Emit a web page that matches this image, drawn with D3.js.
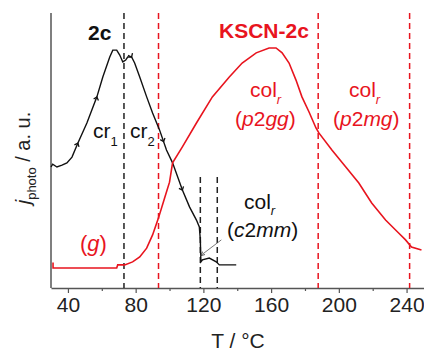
<!DOCTYPE html>
<html>
<head>
<meta charset="utf-8">
<script src="https://cdn.jsdelivr.net/npm/d3@7"></script>
<style>
  body { margin: 0; background: #fff; }
  svg { font-family: "Liberation Sans", Arial, sans-serif; }
</style>
</head>
<body>
<svg id="chart" width="424" height="351"></svg>
<script>
// black curve: 2c  (T in °C, j in a.u.)
var blackT = [30, 31, 33.5, 36.5, 39.4, 42.4, 45.9, 51.2, 57.1, 60.6, 64.7, 66.5, 68.8, 70.6, 72.4, 74.1, 75.3, 77.6, 79.4, 82.4, 86.5, 90, 94.1, 98.2, 101.8, 107.6, 111.8, 115.9, 117.6, 118.2, 118.5, 119.4, 123.5, 127.6, 129.4, 139.4];
var blackJ = [44, 45, 44, 44.7, 45.5, 47.6, 52.7, 60, 69.5, 76.7, 84, 86.5, 86.5, 84.7, 82.2, 82.9, 84, 84, 81.8, 76.7, 69.5, 63.6, 57.5, 50.2, 45.5, 35.6, 29.5, 24.7, 22.2, 17.5, 9.5, 10.2, 10.9, 9.5, 8.4, 8.4];
// heating direction marks on the black curve
var arrowT = [45.9, 57.1, 77.6, 96.5, 107.6];

// red curve: KSCN-2c
var redT = [31.2, 31.2, 68.8, 69.4, 73.5, 78.2, 82.4, 86.5, 90, 93.5, 97.1, 100, 101.8, 107.6, 115.9, 125.3, 135.3, 142.9, 151.2, 158.8, 162.9, 166.5, 170.6, 174.7, 178.2, 182.4, 186.5, 188.2, 195.9, 204.1, 211.8, 219.4, 227.6, 235.3, 239.4, 242.9, 248.8];
var redJ = [9.3, 7.3, 7.3, 8.4, 8.4, 9.5, 11.3, 14.5, 19.3, 25.5, 32.7, 38.5, 45.5, 51.3, 60, 69.5, 76.7, 81.8, 85.5, 87.3, 87.3, 85.5, 81.8, 75.6, 69.5, 64, 58.2, 56.4, 50.2, 44, 38.2, 30.9, 24.7, 20, 17.5, 14.9, 13.8];

// phase borders
var blackBorders = [73.1];
var blackShortBorders = [118.2, 128.2];
var redBorders = [93.5, 187.8, 241.8];

var majorTicks = [40, 80, 120, 160, 200, 240];
var minorTicks = [60, 100, 140, 180, 220];

var svg = d3.select("#chart");
var x = d3.scaleLinear().domain([30, 250]).range([51, 423.5]);
var y = d3.scaleLinear().domain([0, 100]).range([288, 13]);

var black = "#111111", red = "#e8141e", axisCol = "#555555";

// x axis
var xAxis = d3.axisBottom(x).tickValues(majorTicks).tickSize(5).tickSizeOuter(0).tickPadding(4);
var gx = svg.append("g").attr("transform", "translate(0,288)").call(xAxis);
gx.select(".domain").attr("stroke", axisCol).attr("stroke-width", 1.5);
gx.selectAll(".tick line").attr("stroke", axisCol).attr("stroke-width", 1.2);
gx.selectAll(".tick text").attr("font-size", 21).attr("fill", "#222").attr("font-family", "Liberation Sans, Arial, sans-serif");

var gxm = svg.append("g").attr("transform", "translate(0,288)")
  .call(d3.axisBottom(x).tickValues(minorTicks).tickSize(3).tickFormat(""));
gxm.select(".domain").remove();
gxm.selectAll(".tick line").attr("stroke", axisCol).attr("stroke-width", 1.2);

// y axis, line only
svg.append("line")
  .attr("x1", x(30)).attr("x2", x(30))
  .attr("y1", y(100)).attr("y2", y(0))
  .attr("stroke", axisCol).attr("stroke-width", 1.5);

// dashed borders
function border(t, top, color) {
  svg.append("line")
    .attr("x1", x(t)).attr("x2", x(t))
    .attr("y1", y(top)).attr("y2", y(0))
    .attr("stroke", color).attr("stroke-width", 1.5)
    .style("stroke-dasharray", "6, 4");
}
blackBorders.forEach(function (t) { border(t, 100, "#222"); });
blackShortBorders.forEach(function (t) { border(t, 40.4, "#222"); });
redBorders.forEach(function (t) { border(t, 100, red); });

// curves
var line = d3.line().x(function (d) { return x(d[0]); }).y(function (d) { return y(d[1]); });
svg.append("path")
  .datum(blackT.map(function (t, i) { return [t, blackJ[i]]; }))
  .attr("fill", "none").attr("stroke", black).attr("stroke-width", 1.4)
  .attr("d", line);
svg.append("path")
  .datum(redT.map(function (t, i) { return [t, redJ[i]]; }))
  .attr("fill", "none").attr("stroke", red).attr("stroke-width", 1.6)
  .attr("d", line);

// little arrow heads along the black curve
arrowT.forEach(function (t) {
  var i = d3.bisectRight(blackT, t) - 1;
  var f = (t - blackT[i]) / (blackT[i + 1] - blackT[i]);
  var j = blackJ[i] + f * (blackJ[i + 1] - blackJ[i]);
  var ang = Math.atan2(y(blackJ[i + 1]) - y(blackJ[i]), x(blackT[i + 1]) - x(blackT[i])) * 180 / Math.PI;
  svg.append("path")
    .attr("d", "M-3,-2.5L0,0L-3,2.5")
    .attr("fill", "none").attr("stroke", black).attr("stroke-width", 1.3)
    .attr("transform", "translate(" + x(t) + "," + y(j) + ") rotate(" + ang + ")");
});

// labels
function label(px, py, parts, color, size, weight) {
  var t = svg.append("text").attr("x", px).attr("y", py)
    .attr("fill", color).attr("font-size", size || 21)
    .attr("font-weight", weight || "normal");
  parts.forEach(function (p) {
    var s = t.append("tspan").text(p.text);
    if (p.italic) s.attr("font-style", "italic");
    if (p.sub) s.attr("font-size", 13).attr("dy", p.sub);
  });
  return t;
}
label(88, 40, [{ text: "2c" }], black, 21, "bold");
label(219, 38, [{ text: "KSCN-2c" }], red, 21, "bold");
label(93, 138, [{ text: "cr" }, { text: "1", sub: 8 }], black);
label(130, 138, [{ text: "cr" }, { text: "2", sub: 8 }], black);
label(250, 97, [{ text: "col" }, { text: "r", sub: 7, italic: true }], red);
label(235, 126, [{ text: "(" }, { text: "p", italic: true }, { text: "2" }, { text: "gg", italic: true }, { text: ")" }], red);
label(349, 97, [{ text: "col" }, { text: "r", sub: 7, italic: true }], red);
label(333, 126, [{ text: "(" }, { text: "p", italic: true }, { text: "2" }, { text: "mg", italic: true }, { text: ")" }], red);
label(244, 209, [{ text: "col" }, { text: "r", sub: 6, italic: true }], black);
label(227, 237, [{ text: "(" }, { text: "c", italic: true }, { text: "2" }, { text: "mm", italic: true }, { text: ")" }], black);
label(80, 251, [{ text: "(" }, { text: "g", italic: true }, { text: ")" }], red, 22);

// pointer to c2mm step
svg.append("defs").append("marker")
  .attr("id", "arr").attr("viewBox", "0 0 10 10").attr("refX", 9).attr("refY", 5)
  .attr("markerWidth", 6).attr("markerHeight", 6).attr("orient", "auto")
  .append("path").attr("d", "M0,1L10,5L0,9").attr("fill", "none").attr("stroke", "#333").attr("stroke-width", 1.5);
svg.append("line")
  .attr("x1", x(130.6)).attr("y1", y(17.5))
  .attr("x2", x(118.4)).attr("y2", y(11.8))
  .attr("stroke", "#555").attr("stroke-width", 0.8)
  .attr("marker-end", "url(#arr)");

// axis titles
svg.append("text").attr("x", 238).attr("y", 348).attr("text-anchor", "middle")
  .attr("font-size", 21).attr("fill", "#222").text("T / °C");
var yl = svg.append("text").attr("transform", "translate(30,158) rotate(-90)")
  .attr("text-anchor", "middle").attr("font-size", 20).attr("fill", "#222");
yl.append("tspan").attr("font-style", "italic").text("j");
yl.append("tspan").attr("font-size", 13).attr("dy", 6).text("photo");
yl.append("tspan").attr("dy", -6).text(" / a. u.");
</script>
</body>
</html>
